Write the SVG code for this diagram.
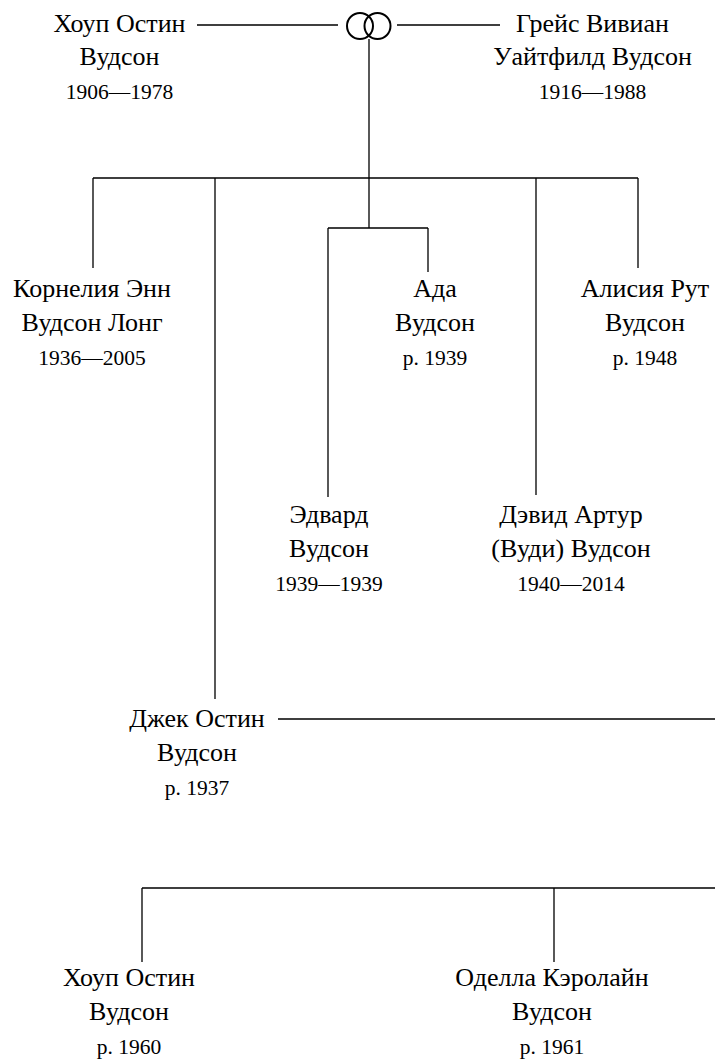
<svg xmlns="http://www.w3.org/2000/svg" width="715" height="1063" viewBox="0 0 715 1063">
<style>
.n{font-family:"Liberation Serif","Times New Roman",serif;font-size:26px;fill:#000;text-anchor:middle}
.y{font-family:"Liberation Serif","Times New Roman",serif;font-size:21.5px;fill:#000;text-anchor:middle}
.c{fill:none;stroke:#000;stroke-width:1.3}
.r{fill:none;stroke:#000;stroke-width:2}
</style>
<rect width="715" height="1063" fill="#fff"/>
<g id="connectors">
<path class="c" d="M197,25H338M397,25H500"/>
<circle class="r" cx="360" cy="26" r="13"/>
<circle class="r" cx="377.5" cy="26" r="13"/>
<path class="c" d="M369,39V178M93,178H638M93,178V268M215,178V699M369,178V228M328,228H428M328,228V497M428,228V272M536,178V495M638,178V268"/>
<path class="c" d="M278,719H715M142,888H715M142,888V962M554,888V962"/>
</g>
<g id="hope-sr">
<text class="n" x="119.5" y="32">Хоуп Остин</text>
<text class="n" x="119.5" y="65">Вудсон</text>
<text class="y" x="119.5" y="99">1906—1978</text>
</g>
<g id="grace">
<text class="n" x="592.5" y="32">Грейс Вивиан</text>
<text class="n" x="592.5" y="65">Уайтфилд Вудсон</text>
<text class="y" x="592.5" y="99">1916—1988</text>
</g>
<g id="cornelia">
<text class="n" x="92" y="297">Корнелия Энн</text>
<text class="n" x="92" y="331">Вудсон Лонг</text>
<text class="y" x="92" y="365">1936—2005</text>
</g>
<g id="ada">
<text class="n" x="435" y="297">Ада</text>
<text class="n" x="435" y="331">Вудсон</text>
<text class="y" x="435" y="365">р. 1939</text>
</g>
<g id="alicia">
<text class="n" x="645" y="297">Алисия Рут</text>
<text class="n" x="645" y="331">Вудсон</text>
<text class="y" x="645" y="365">р. 1948</text>
</g>
<g id="edward">
<text class="n" x="329" y="523">Эдвард</text>
<text class="n" x="329" y="557">Вудсон</text>
<text class="y" x="329" y="591">1939—1939</text>
</g>
<g id="david">
<text class="n" x="571" y="523">Дэвид Артур</text>
<text class="n" x="571" y="557">(Вуди) Вудсон</text>
<text class="y" x="571" y="591">1940—2014</text>
</g>
<g id="jack">
<text class="n" x="197" y="727">Джек Остин</text>
<text class="n" x="197" y="761">Вудсон</text>
<text class="y" x="197" y="795">р. 1937</text>
</g>
<g id="hope-jr">
<text class="n" x="129" y="986">Хоуп Остин</text>
<text class="n" x="129" y="1020">Вудсон</text>
<text class="y" x="129" y="1054">р. 1960</text>
</g>
<g id="odella">
<text class="n" x="552" y="986">Оделла Кэролайн</text>
<text class="n" x="552" y="1020">Вудсон</text>
<text class="y" x="552" y="1054">р. 1961</text>
</g>
</svg>
